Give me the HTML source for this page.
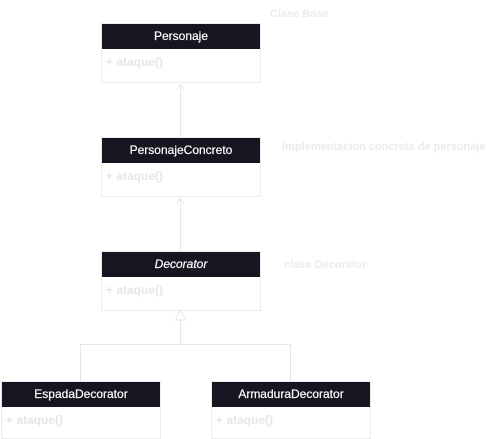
<!DOCTYPE html>
<html><head><style>
body{margin:0;width:501px;height:437px;background:#fff;position:relative;overflow:hidden;font-family:"Liberation Sans",sans-serif}
.b{position:absolute;width:158px;border:1px solid #ececec;background:#fff}
.h{height:25px;background:#17151f;color:#fff;font-size:12px;line-height:25px;text-align:center;-webkit-text-stroke:0.2px #fff}
.m{color:#e6e6e6;font-size:12px;padding:6px 4px;font-weight:bold}
.n{position:absolute;color:#ebebeb;font-size:11px;font-weight:bold;white-space:nowrap}
svg{position:absolute;left:0;top:0}
</style></head><body>
<svg width="501" height="437"><g stroke="#e6e6e6" fill="none" stroke-width="1">
<line x1="180.5" y1="84" x2="180.5" y2="137"/><path d="M177 90 L180.5 84 L184 90"/>
<line x1="180.5" y1="198" x2="180.5" y2="251"/><path d="M177 204 L180.5 198 L184 204"/>
<path d="M175.5 320 L180.5 310 L185.5 320 Z"/>
<path d="M180.5 320 V344.5 H80.5 V381 M180.5 344.5 H290.5 V381"/>
</g></svg>
<div class="b" style="left:101px;top:23px;height:58px"><div class="h">Personaje</div><div class="m">+ ataque()</div></div>
<div class="b" style="left:101px;top:137px;height:58px"><div class="h">PersonajeConcreto</div><div class="m">+ ataque()</div></div>
<div class="b" style="left:101px;top:251px;height:58px"><div class="h" style="font-style:italic">Decorator</div><div class="m">+ ataque()</div></div>
<div class="b" style="left:1px;top:381px;height:56px"><div class="h">EspadaDecorator</div><div class="m">+ ataque()</div></div>
<div class="b" style="left:211px;top:381px;height:56px"><div class="h">ArmaduraDecorator</div><div class="m">+ ataque()</div></div>
<div class="n" style="left:270px;top:8px">Clase Base</div>
<div class="n" style="left:282px;top:141px">Implementacion concreta de personaje</div>
<div class="n" style="left:284px;top:259px">clase Decorator</div>
</body></html>
